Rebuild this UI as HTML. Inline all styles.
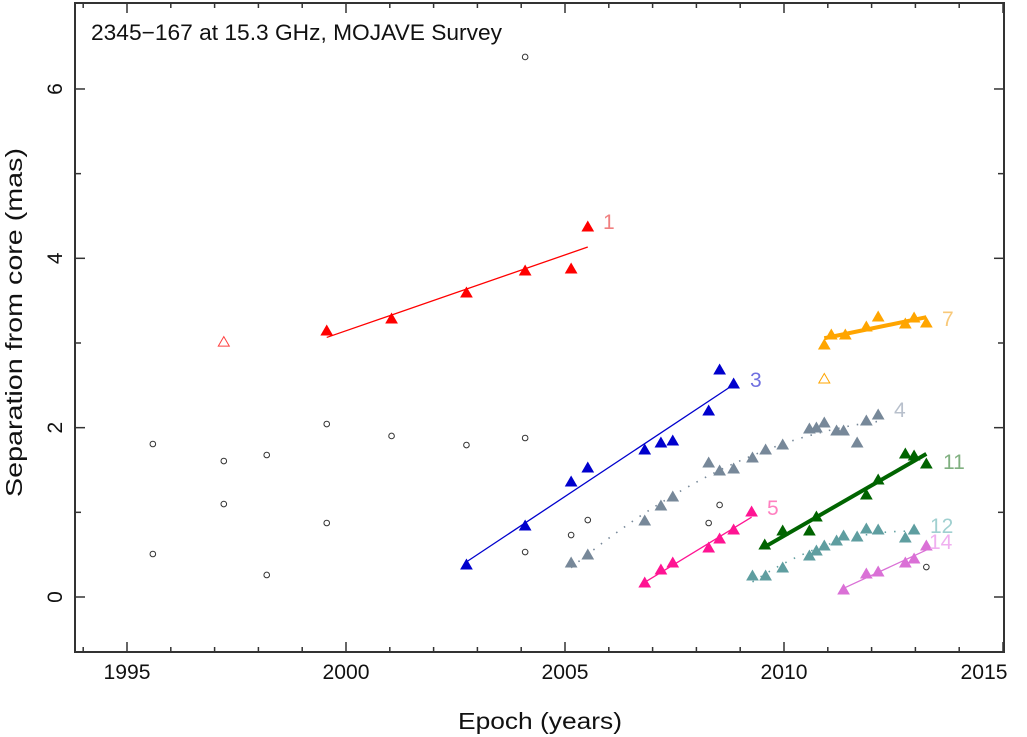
<!DOCTYPE html>
<html><head><meta charset="utf-8"><style>
html,body{margin:0;padding:0;background:#fff;}
svg{display:block;font-family:"Liberation Sans","DejaVu Sans",sans-serif;}
</style></head><body>
<svg id="chart" width="1027" height="737" viewBox="0 0 1027 737" xmlns="http://www.w3.org/2000/svg">
<rect x="0" y="0" width="1027" height="737" fill="#fff"/>
<g id="ticks"></g>
<g id="marks"></g>
<rect x="75" y="3" width="929" height="649" fill="none" stroke="#333" stroke-width="2"/>
<text x="91" y="40" font-size="22" textLength="411" lengthAdjust="spacingAndGlyphs" fill="#111">2345−167 at 15.3 GHz, MOJAVE Survey</text>
<text x="458" y="729" font-size="23" textLength="164" lengthAdjust="spacingAndGlyphs" fill="#111">Epoch (years)</text>
<text transform="translate(22,497) rotate(-90)" font-size="23" textLength="349" lengthAdjust="spacingAndGlyphs" fill="#111">Separation from core (mas)</text>
</svg>
<script>
const xTicks=[1995,2000,2005,2010,2015];
const yTicks=[0,2,4,6];
// open circles (unassigned)
const circYears=[1995.59,1995.59,1997.21,1997.21,1998.19,1998.19,1999.56,1999.56,2001.04,2002.75,2004.09,2004.09,2004.09,2005.14,2005.52,2008.28,2008.53,2013.25];
const circVals=[1.807,0.508,1.606,1.098,1.677,0.260,2.043,0.874,1.902,1.795,6.378,1.878,0.531,0.732,0.909,0.874,1.087,0.354];
// component 1
const c1Years=[1999.56,2001.04,2002.75,2004.09,2005.14,2005.52];
const c1Vals=[3.142,3.283,3.590,3.850,3.874,4.370];
// component 3
const c3Years=[2002.75,2004.09,2005.14,2005.52,2006.82,2007.19,2007.46,2008.28,2008.53,2008.85];
const c3Vals=[0.378,0.839,1.358,1.524,1.736,1.819,1.842,2.197,2.681,2.516];
// component 4
const c4Years=[2005.14,2005.52,2006.82,2007.19,2007.46,2008.28,2008.53,2008.85,2009.28,2009.58,2009.97,2010.58,2010.74,2010.92,2011.20,2011.36,2011.67,2011.88,2012.15];
const c4Vals=[0.402,0.496,0.898,1.075,1.181,1.583,1.488,1.512,1.642,1.736,1.795,1.984,1.996,2.055,1.961,1.961,1.819,2.079,2.149];
// component 5
const c5Years=[2006.82,2007.19,2007.46,2008.28,2008.53,2008.85,2009.26];
const c5Vals=[0.165,0.319,0.402,0.579,0.685,0.791,1.004];
// component 7
const c7Years=[2010.92,2011.08,2011.4,2011.88,2012.15,2012.77,2012.97,2013.25];
const c7Vals=[2.976,3.094,3.094,3.189,3.307,3.224,3.295,3.236];
// component 11
const c11Years=[2009.56,2009.97,2010.58,2010.74,2011.88,2012.15,2012.77,2012.97,2013.25];
const c11Vals=[0.614,0.780,0.780,0.945,1.205,1.382,1.689,1.665,1.571];
// component 12
const c12Years=[2009.28,2009.58,2009.97,2010.58,2010.74,2010.92,2011.20,2011.36,2011.67,2011.88,2012.15,2012.77,2012.97];
const c12Vals=[0.248,0.248,0.342,0.484,0.543,0.602,0.661,0.720,0.709,0.803,0.791,0.697,0.791];
// component 14
const c14Years=[2011.36,2011.88,2012.15,2012.77,2012.97,2013.25];
const c14Vals=[0.083,0.272,0.295,0.402,0.449,0.602];
// open triangles (unfitted)
const openYears=[1997.21,2010.92];
const openVals=[3.01,2.575];

const NS="http://www.w3.org/2000/svg";
function xs(y){return 127+(y-1995)*43.8;}
function ys(v){return 597-v*84.67;}
const marks=document.getElementById('marks');
const tk=document.getElementById('ticks');
function mk(tag,attrs,parent){const e=document.createElementNS(NS,tag);for(const k in attrs)e.setAttribute(k,attrs[k]);(parent||marks).appendChild(e);return e;}

for(let yr=1994;yr<=2015;yr++){
  const x=xs(yr);if(x<76||x>1004)continue;
  const major=yr%5===0;const L=major?10:5;
  let t=mk('line',{x1:x,x2:x,y1:652,y2:652-L,stroke:'#333','stroke-width':1.5},tk);
  
  
  t=mk('line',{x1:x,x2:x,y1:3,y2:3+L,stroke:'#333','stroke-width':1.5},tk);
  
  
}
xTicks.forEach(yr=>{
  let x=xs(yr);if(yr===2015)x=984;
  const t=mk('text',{x:x-23.5,y:679,'font-size':21,textLength:47,lengthAdjust:'spacingAndGlyphs',fill:'#111'},tk);
  t.textContent=yr;
  
  
});
for(let v=0;v<=6;v++){
  const y=ys(v);const L=v%2===0?10:6;
  let t=mk('line',{x1:75,x2:75+L,y1:y,y2:y,stroke:'#333','stroke-width':1.5},tk);
  
  
  t=mk('line',{x1:1004,x2:1004-L,y1:y,y2:y,stroke:'#333','stroke-width':1.5},tk);
  
  
}
yTicks.forEach(v=>{
  const t=mk('text',{transform:`translate(62,${ys(v)}) rotate(-90)`,'font-size':21,'text-anchor':'middle',fill:'#111'},tk);
  t.textContent=v;
  
  
});

function tri(yr,v,color,filled,name){
  const x=xs(yr),y=ys(v);
  const p=mk('polygon',{points:`${x},${y-5.5} ${x-5.5},${y+4} ${x+5.5},${y+4}`,fill:filled?color:'none',stroke:color,'stroke-width':1});
  
  
}
function linfit(X,Y){const n=X.length;let sx=0,sy=0,sxx=0,sxy=0;for(let i=0;i<n;i++){sx+=X[i];sy+=Y[i];sxx+=X[i]*X[i];sxy+=X[i]*Y[i];}const b=(n*sxy-sx*sy)/(n*sxx-sx*sx);return [ (sy-b*sx)/n, b];}
function quadfit(X,Y){
  const m=X.reduce((a,b)=>a+b,0)/X.length;
  const S=[0,0,0,0,0],T=[0,0,0];
  X.forEach((x0,i)=>{const x=x0-m;for(let k=0;k<5;k++)S[k]+=Math.pow(x,k);for(let k=0;k<3;k++)T[k]+=Y[i]*Math.pow(x,k);});
  const A=[[S[0],S[1],S[2],T[0]],[S[1],S[2],S[3],T[1]],[S[2],S[3],S[4],T[2]]];
  for(let i=0;i<3;i++){for(let j=i+1;j<3;j++){const f=A[j][i]/A[i][i];for(let k=i;k<4;k++)A[j][k]-=f*A[i][k];}}
  const c=[0,0,0];for(let i=2;i>=0;i--){let s=A[i][3];for(let k=i+1;k<3;k++)s-=A[i][k]*c[k];c[i]=s/A[i][i];}
  return x=>{const d=x-m;return c[0]+c[1]*d+c[2]*d*d;};
}
function fitLine(X,Y,color,w,name){
  const [a,b]=linfit(X,Y);const x0=Math.min(...X),x1=Math.max(...X);
  const l=mk('line',{x1:xs(x0),y1:ys(a+b*x0),x2:xs(x1),y2:ys(a+b*x1),stroke:color,'stroke-width':w});
  
  
}
function fitCurve(X,Y,color,name){
  const f=quadfit(X,Y);const x0=Math.min(...X),x1=Math.max(...X);let d='';
  for(let i=0;i<=40;i++){const x=x0+(x1-x0)*i/40;d+=(i?'L':'M')+xs(x).toFixed(1)+','+ys(f(x)).toFixed(1);}
  const p=mk('path',{d:d,fill:'none',stroke:color,'stroke-width':1.6,'stroke-dasharray':'1.5 8'});
  
  
}
function label(txt,x,y,color){
  const t=mk('text',{x:x,y:y,'font-size':21,fill:color});t.textContent=txt;
  
  
}

circYears.forEach((yr,i)=>{
  const c=mk('circle',{cx:xs(yr),cy:ys(circVals[i]),r:2.8,fill:'none',stroke:'#333','stroke-width':1});
  
  
});

const comps=[
 [c1Years,c1Vals,'#ff0000','line',1.3,'1','#f08080',603,229],
 [c3Years,c3Vals,'#0000cd','line',1.3,'3','#7070e0',750,387],
 [c4Years,c4Vals,'#778899','quad',1,'4','#b8c0cc',894,417],
 [c5Years,c5Vals,'#ff1493','line',1.3,'5','#ff80c0',767,515],
 [c7Years,c7Vals,'#ffa500','line',4,'7','#f8c878',942,326],
 [c11Years,c11Vals,'#006400','line',4,'11','#80b080',943,469],
 [c12Years,c12Vals,'#5f9ea0','quad',1,'12','#a0d0d0',930,533],
 [c14Years,c14Vals,'#da70d6','line',1.3,'14','#f0b0f0',929,549]
];
comps.forEach(c=>{
  if(c[3]==='line')fitLine(c[0],c[1],c[2],c[4],'fit-line-'+c[5]);else fitCurve(c[0],c[1],c[2],'fit-curve-'+c[5]);
  c[0].forEach((yr,i)=>tri(yr,c[1][i],c[2],true,'component-'+c[5]+'-point'));
  label(c[5],c[7],c[8],c[6]);
});
tri(openYears[0],openVals[0],'#ff4040',false,'component-1-open-point');
tri(openYears[1],openVals[1],'#ffa500',false,'component-7-open-point');
</script>
</body></html>
